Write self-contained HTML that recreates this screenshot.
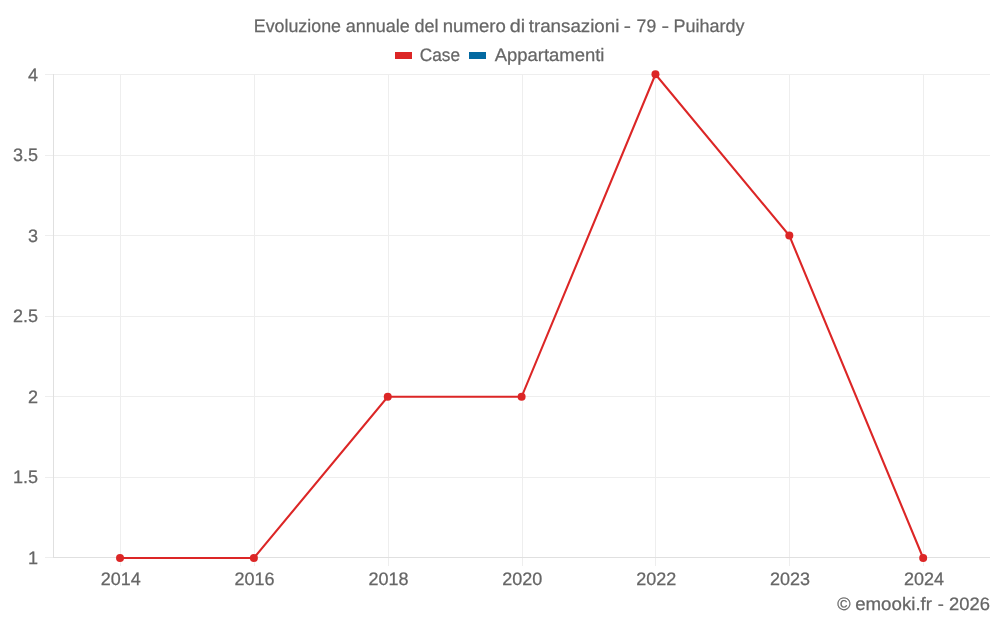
<!DOCTYPE html>
<html lang="it">
<head>
<meta charset="utf-8">
<title>Evoluzione annuale del numero di transazioni - 79 - Puihardy</title>
<style>
html,body{margin:0;padding:0;background:#fff;}
body{width:1000px;height:625px;overflow:hidden;}
svg{display:block;}
text{font-family:"Liberation Sans",sans-serif;font-size:18px;fill:#666;stroke:#666;stroke-width:0.25px;text-rendering:geometricPrecision;}
</style>
</head>
<body>
<svg width="1000" height="625" viewBox="0 0 1000 625">
<rect width="1000" height="625" fill="#fff"/>

<g shape-rendering="crispEdges">
<line x1="120.5" y1="74.0" x2="120.5" y2="566.0" stroke="#eeeeee" stroke-width="1"/>
<line x1="254.5" y1="74.0" x2="254.5" y2="566.0" stroke="#eeeeee" stroke-width="1"/>
<line x1="388.5" y1="74.0" x2="388.5" y2="566.0" stroke="#eeeeee" stroke-width="1"/>
<line x1="522.5" y1="74.0" x2="522.5" y2="566.0" stroke="#eeeeee" stroke-width="1"/>
<line x1="655.5" y1="74.0" x2="655.5" y2="566.0" stroke="#eeeeee" stroke-width="1"/>
<line x1="789.5" y1="74.0" x2="789.5" y2="566.0" stroke="#eeeeee" stroke-width="1"/>
<line x1="923.5" y1="74.0" x2="923.5" y2="566.0" stroke="#eeeeee" stroke-width="1"/>
<line x1="45.0" y1="74.5" x2="990.0" y2="74.5" stroke="#eeeeee" stroke-width="1"/>
<line x1="45.0" y1="155.5" x2="990.0" y2="155.5" stroke="#eeeeee" stroke-width="1"/>
<line x1="45.0" y1="235.5" x2="990.0" y2="235.5" stroke="#eeeeee" stroke-width="1"/>
<line x1="45.0" y1="316.5" x2="990.0" y2="316.5" stroke="#eeeeee" stroke-width="1"/>
<line x1="45.0" y1="396.5" x2="990.0" y2="396.5" stroke="#eeeeee" stroke-width="1"/>
<line x1="45.0" y1="477.5" x2="990.0" y2="477.5" stroke="#eeeeee" stroke-width="1"/>
<line x1="45.0" y1="557.5" x2="990.0" y2="557.5" stroke="#eeeeee" stroke-width="1"/>
<line x1="53.5" y1="74.0" x2="53.5" y2="558.0" stroke="#e0e0e0" stroke-width="1"/>
<line x1="53.0" y1="557.5" x2="990.0" y2="557.5" stroke="#e0e0e0" stroke-width="1"/>
</g>
<polyline points="120.03,558.00 253.89,558.00 387.74,396.78 521.60,396.78 655.46,74.35 789.31,235.57 923.17,558.00" fill="none" stroke="#dc2626" stroke-width="2.1" stroke-linejoin="miter"/>
<circle cx="120.03" cy="558.00" r="4" fill="#dc2626"/>
<circle cx="253.89" cy="558.00" r="4" fill="#dc2626"/>
<circle cx="387.74" cy="396.78" r="4" fill="#dc2626"/>
<circle cx="521.60" cy="396.78" r="4" fill="#dc2626"/>
<circle cx="655.46" cy="74.35" r="4" fill="#dc2626"/>
<circle cx="789.31" cy="235.57" r="4" fill="#dc2626"/>
<circle cx="923.17" cy="558.00" r="4" fill="#dc2626"/>
<text x="38" y="80.9" text-anchor="end">4</text>
<text x="38" y="161.4" text-anchor="end">3.5</text>
<text x="38" y="241.9" text-anchor="end">3</text>
<text x="38" y="322.4" text-anchor="end">2.5</text>
<text x="38" y="402.9" text-anchor="end">2</text>
<text x="38" y="483.4" text-anchor="end">1.5</text>
<text x="38" y="563.9" text-anchor="end">1</text>
<text x="120.7" y="585.45" text-anchor="middle">2014</text>
<text x="254.6" y="585.45" text-anchor="middle">2016</text>
<text x="388.4" y="585.45" text-anchor="middle">2018</text>
<text x="522.3" y="585.45" text-anchor="middle">2020</text>
<text x="656.2" y="585.45" text-anchor="middle">2022</text>
<text x="790.0" y="585.45" text-anchor="middle">2023</text>
<text x="923.9" y="585.45" text-anchor="middle">2024</text>
<text y="31.8" xml:space="default"><tspan x="253.76" textLength="87.24" lengthAdjust="spacingAndGlyphs">Evoluzione</tspan> <tspan x="345.70" textLength="64.06" lengthAdjust="spacingAndGlyphs">annuale</tspan> <tspan x="414.45" textLength="24.02" lengthAdjust="spacingAndGlyphs">del</tspan> <tspan x="442.76" textLength="62.99" lengthAdjust="spacingAndGlyphs">numero</tspan> <tspan x="509.72" textLength="15.35" lengthAdjust="spacingAndGlyphs">di</tspan> <tspan x="528.69" textLength="90.71" lengthAdjust="spacingAndGlyphs">transazioni</tspan> <tspan x="623.74" textLength="7.22" lengthAdjust="spacingAndGlyphs">-</tspan> <tspan x="636.62" textLength="19.58" lengthAdjust="spacingAndGlyphs">79</tspan> <tspan x="661.48" textLength="7.63" lengthAdjust="spacingAndGlyphs">-</tspan> <tspan x="673.50" textLength="70.94" lengthAdjust="spacingAndGlyphs">Puihardy</tspan></text>
<rect x="395" y="52" width="17" height="7" fill="#dc2626"/>
<text y="60.6" xml:space="default"><tspan x="419.74" textLength="40.25" lengthAdjust="spacingAndGlyphs">Case</tspan></text>
<rect x="469" y="52" width="17" height="7" fill="#0369a1"/>
<text y="60.6" xml:space="default"><tspan x="494.65" textLength="109.75" lengthAdjust="spacingAndGlyphs">Appartamenti</tspan></text>
<text y="609.5" xml:space="default"><tspan x="837.35" textLength="13.32" lengthAdjust="spacingAndGlyphs">©</tspan> <tspan x="855.17" textLength="76.86" lengthAdjust="spacingAndGlyphs">emooki.fr</tspan> <tspan x="937.68" textLength="6.13" lengthAdjust="spacingAndGlyphs">-</tspan> <tspan x="948.98" textLength="40.88" lengthAdjust="spacingAndGlyphs">2026</tspan></text>
</svg>
</body>
</html>
